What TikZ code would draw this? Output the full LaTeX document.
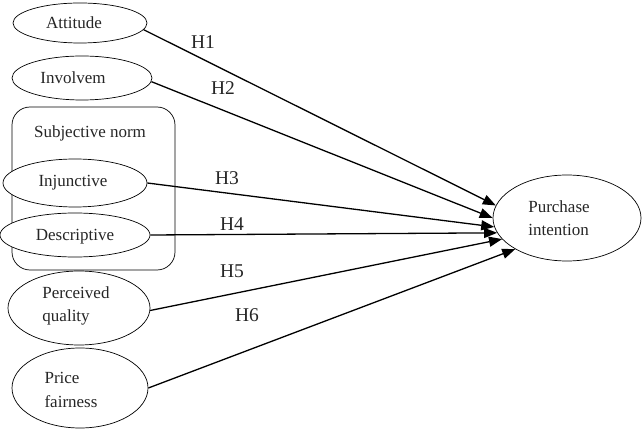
\documentclass[tikz,border=0pt]{standalone}
\usepackage{fontspec}
\setmainfont{Liberation Serif}
\usetikzlibrary{shapes.geometric,arrows.meta}
\begin{document}
\begin{tikzpicture}[x=1pt,y=-1pt,
  oval/.style={draw, ellipse, inner sep=0pt, fill=white, line width=0.7pt},
  lbl/.style={font=\fontsize{17}{23.5}\selectfont, align=left, text=black!85},
  hyp/.style={font=\fontsize{19.5}{22}\selectfont, text=black!85},
  arr/.style={line width=1.3pt, -{Triangle[length=13pt,width=10pt]}},
  grp/.style={draw, rounded corners=18pt, line width=0.7pt}]
\useasboundingbox (0,0) rectangle (642,430);
\node[grp, minimum width=163pt, minimum height=163pt] (sn) at (93.5,188.5) {};
\node[lbl] (snt) at (90,133) {Subjective norm};
\node[oval, minimum width=134pt, minimum height=40pt, label={[lbl, xshift=-6pt]center:Attitude}] (att) at (80,23) {};
\node[oval, minimum width=140pt, minimum height=44pt, label={[lbl, xshift=-9pt]center:Involvem}] (inv) at (82,78) {};
\node[oval, minimum width=144pt, minimum height=48pt, label={[lbl, xshift=-2pt]center:Injunctive}] (inj) at (75,183) {};
\node[oval, minimum width=150pt, minimum height=44pt, label={[lbl, yshift=-2pt]center:Descriptive}] (des) at (75,235) {};
\node[oval, minimum width=142pt, minimum height=74pt, label={[lbl, xshift=-3pt, yshift=2pt]center:Perceived\\quality}] (pq) at (79,308) {};
\node[oval, minimum width=136pt, minimum height=80pt, label={[lbl, xshift=-9pt, yshift=-2pt]center:Price\\fairness}] (pf) at (80,388) {};
\node[oval, minimum width=148pt, minimum height=86pt, label={[lbl, xshift=-8pt]center:Purchase\\intention}] (pi) at (567,218) {};
\draw[arr] (att.-6) -- (pi.170.7);
\draw[arr] (inv.-3) -- (pi.180);
\draw[arr] (inj.0) -- (pi.187);
\draw[arr] (des.0) -- (pi.192.6);
\draw[arr] (pq.-2) -- (pi.198.7);
\draw[arr] (pf.0) -- (pi.211.6);
\node[hyp] (h1) at (203,42) {H1};
\node[hyp] (h2) at (223,88) {H2};
\node[hyp] (h3) at (227,178) {H3};
\node[hyp] (h4) at (232,224) {H4};
\node[hyp] (h5) at (232,271) {H5};
\node[hyp] (h6) at (247,315) {H6};
\end{tikzpicture}
\end{document}
